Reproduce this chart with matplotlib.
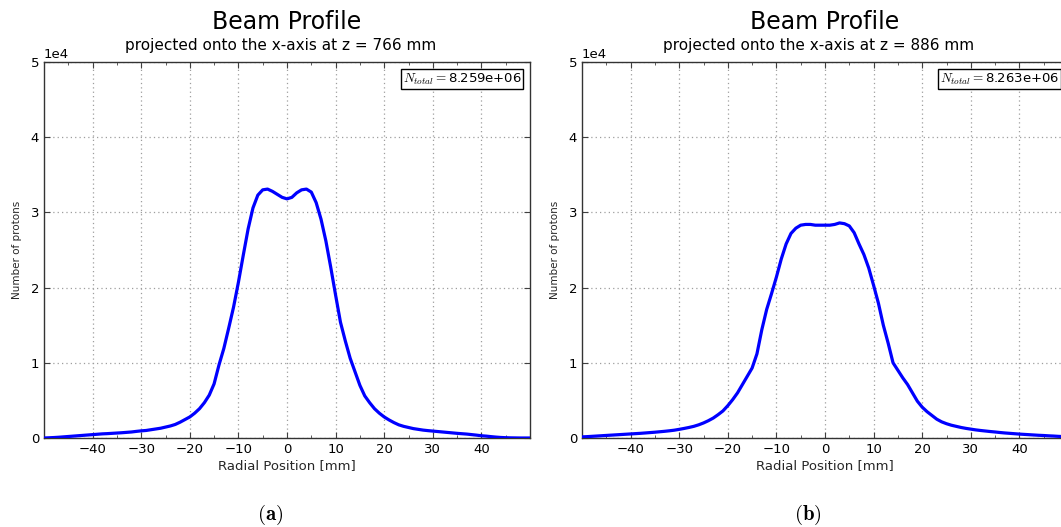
import numpy as np
import matplotlib
matplotlib.use("Agg")
import matplotlib.pyplot as plt
from matplotlib.ticker import MultipleLocator

plt.rcParams['font.family'] = ['DejaVu Sans']
plt.rcParams['mathtext.fontset'] = 'cm'

# Radial positions [mm]
positions = list(range(-50, 51))

# Panel (a): z = 766 mm, counts in units of 1e4
counts_766 = [
    0.000, 0.003, 0.006, 0.010, 0.015, 0.020, 0.025, 0.030, 0.035, 0.040,   # -50..-41
    0.045, 0.050, 0.055, 0.058, 0.062, 0.066, 0.070, 0.075, 0.080, 0.088,   # -40..-31
    0.095, 0.100, 0.110, 0.120, 0.130, 0.145, 0.160, 0.180, 0.210, 0.245,   # -30..-21
    0.280, 0.330, 0.390, 0.470, 0.570, 0.720, 0.970, 1.190, 1.460, 1.740,   # -20..-11
    2.070, 2.430, 2.780, 3.060, 3.230, 3.300, 3.310, 3.280, 3.240, 3.200,   # -10..-1
    3.180,                                                                  # 0
    3.200, 3.260, 3.300, 3.310, 3.270, 3.130, 2.910, 2.620, 2.270, 1.900,   # 1..10
    1.540, 1.290, 1.060, 0.880, 0.700, 0.560, 0.470, 0.390, 0.330, 0.280,   # 11..20
    0.240, 0.205, 0.175, 0.155, 0.140, 0.125, 0.115, 0.105, 0.098, 0.092,   # 21..30
    0.086, 0.080, 0.074, 0.068, 0.062, 0.057, 0.052, 0.045, 0.038, 0.030,   # 31..40
    0.025, 0.018, 0.012, 0.007, 0.004, 0.002, 0.001, 0.000, 0.000, 0.000,   # 41..50
]

# Panel (b): z = 886 mm, counts in units of 1e4
counts_886 = [
    0.015, 0.018, 0.022, 0.026, 0.030, 0.034, 0.038, 0.042, 0.046, 0.050,   # -50..-41
    0.054, 0.058, 0.062, 0.067, 0.072, 0.077, 0.083, 0.089, 0.096, 0.104,   # -40..-31
    0.115, 0.127, 0.140, 0.155, 0.175, 0.200, 0.230, 0.265, 0.310, 0.360,   # -30..-21
    0.430, 0.510, 0.600, 0.710, 0.820, 0.930, 1.120, 1.440, 1.710, 1.920,   # -20..-11
    2.140, 2.380, 2.580, 2.720, 2.790, 2.830, 2.840, 2.840, 2.830, 2.830,   # -10..-1
    2.830,                                                                  # 0
    2.830, 2.840, 2.860, 2.850, 2.820, 2.730, 2.580, 2.440, 2.260, 2.030,   # 1..10
    1.790, 1.500, 1.260, 1.000, 0.900, 0.800, 0.710, 0.600, 0.490, 0.410,   # 11..20
    0.350, 0.300, 0.250, 0.215, 0.190, 0.170, 0.155, 0.140, 0.128, 0.118,   # 21..30
    0.108, 0.100, 0.093, 0.086, 0.080, 0.073, 0.067, 0.062, 0.057, 0.052,   # 31..40
    0.048, 0.044, 0.040, 0.036, 0.033, 0.029, 0.026, 0.022, 0.019, 0.016,   # 41..50
]

z_positions = ["766", "886"]
n_totals = ["8.259e+06", "8.263e+06"]
xticks = [-40, -30, -20, -10, 0, 10, 20, 30, 40]
yticks = [0, 10000, 20000, 30000, 40000, 50000]

W, H = 1061, 527
fig = plt.figure(figsize=(W / 100, H / 100), dpi=100)

# axes boxes in pixels: (left, right)
boxes = [(44, 530), (582, 1068)]
top_px, bot_px = 62, 438

series = [counts_766, counts_886]
for i, ((l, r), counts) in enumerate(zip(boxes, series)):
    ax = fig.add_axes([l / W, (H - bot_px) / H, (r - l) / W, (bot_px - top_px) / H])
    y = np.array(counts) * 1e4
    ax.plot(positions, y, color='#0000ff', lw=2.3, solid_capstyle='round',
            solid_joinstyle='round', zorder=3)
    ax.set_xlim(-50, 50)
    ax.set_ylim(0, 50000)
    ax.set_xticks(xticks)
    ax.set_yticks(yticks)
    ax.xaxis.set_minor_locator(MultipleLocator(5))
    ax.ticklabel_format(axis='y', style='sci', scilimits=(0, 0))
    ax.yaxis.get_offset_text().set_fontsize(9.5)
    ax.tick_params(which='both', direction='in', top=True, right=True, labelsize=9.5,
                   color='0.25')
    ax.tick_params(which='major', length=4, width=0.8)
    ax.tick_params(which='minor', length=2.5, width=0.6)
    ax.grid(True, which='major', color='0.62', linestyle=(0, (1, 2.5)), linewidth=0.9)
    for sp in ax.spines.values():
        sp.set_linewidth(1.0)
        sp.set_color('0.2')
    ax.set_xlabel("Radial Position [mm]", fontsize=9.5, labelpad=2, color='0.15')
    ax.set_ylabel("Number of protons", fontsize=7.5, labelpad=6, color='0.15')
    ax.text(0.982, 0.975, r"$N_{total}=$" + n_totals[i], transform=ax.transAxes,
            ha='right', va='top', fontsize=9.5,
            bbox=dict(boxstyle='square,pad=0.15', facecolor='white', edgecolor='black', lw=1.0))
    cx = (l + r) / 2 / W
    fig.text(cx, 1 - 22 / H, "Beam Profile", ha='center', va='center', fontsize=17)
    fig.text(cx - 6 / W, 1 - 45 / H, "projected onto the x-axis at z = %s mm" % z_positions[i],
             ha='center', va='center', fontsize=11)

fig.text(270 / W, 1 - 515 / H, r"$(\mathbf{a})$", ha='center', va='center', fontsize=15)
fig.text(808 / W, 1 - 515 / H, r"$(\mathbf{b})$", ha='center', va='center', fontsize=15)

fig.savefig("out.png", dpi=100)
